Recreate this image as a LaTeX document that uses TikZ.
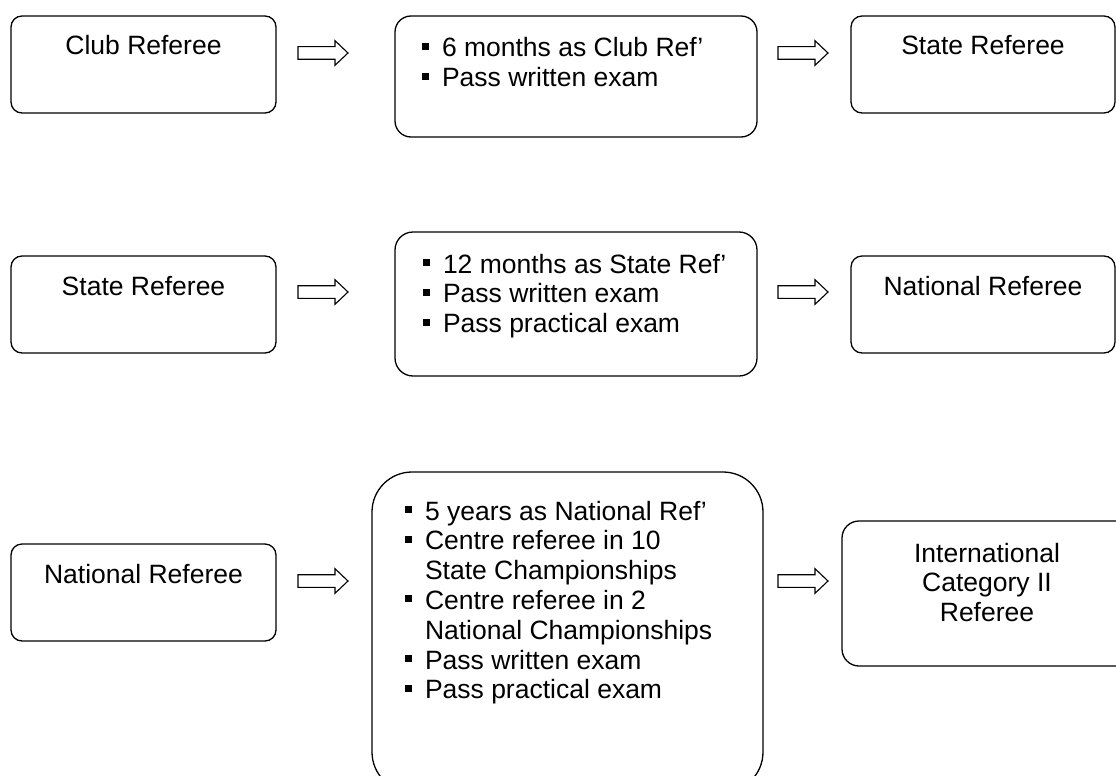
\documentclass[tikz,border=0pt]{standalone}
\usepackage{fontspec}
\setmainfont{Liberation Sans}
\newcommand{\bsq}{\makebox[20pt][l]{\rule[7pt]{7pt}{7pt}}}
\begin{document}
\begin{tikzpicture}[x=1pt,y=-1pt,
  box/.style={draw, line width=1.3pt, inner sep=0pt, outer sep=0pt, anchor=north west},
  txt/.style={inner sep=0pt, outer sep=0pt, font=\fontsize{26.5}{29.8}\selectfont},
  blk/.style={draw, line width=1.1pt, line join=miter}]
\useasboundingbox (0,0) rectangle (1116,776);
\clip (0,0) rectangle (1116,776);
% row 1
\node[box, rounded corners=11pt, minimum width=265pt, minimum height=97pt] (a1) at (11,16) {};
\node[box, rounded corners=16pt, minimum width=362pt, minimum height=121pt] (b1) at (395,16) {};
\node[box, rounded corners=11pt, minimum width=264pt, minimum height=97pt] (c1) at (851,16) {};
\node[txt, anchor=base] (ta1) at (143.5,55) {Club Referee};
\node[txt, anchor=base west] (tb1) at (422,57) {\begin{tabular}[t]{@{}l@{}l@{}}\bsq & 6 months as Club Ref’\\ \bsq & Pass written exam\end{tabular}};
\node[txt, anchor=base] (tc1) at (983,55) {State Referee};
% row 2
\node[box, rounded corners=11pt, minimum width=265pt, minimum height=97pt] (a2) at (11,256) {};
\node[box, rounded corners=18pt, minimum width=362pt, minimum height=144pt] (b2) at (395,232) {};
\node[box, rounded corners=11pt, minimum width=264pt, minimum height=97pt] (c2) at (851,256) {};
\node[txt, anchor=base] (ta2) at (143.5,295) {State Referee};
\node[txt, anchor=base west] (tb2) at (423,273) {\begin{tabular}[t]{@{}l@{}l@{}}\bsq & 12 months as State Ref’\\ \bsq & Pass written exam\\ \bsq & Pass practical exam\end{tabular}};
\node[txt, anchor=base] (tc2) at (983,295) {National Referee};
% row 3
\node[box, rounded corners=11pt, minimum width=265pt, minimum height=97pt] (a3) at (11,544) {};
\node[box, rounded corners=40pt, minimum width=391pt, minimum height=320pt] (b3) at (372,472) {};
\node[box, rounded corners=17pt, minimum width=300pt, minimum height=145pt] (c3) at (842,521) {};
\node[txt, anchor=base] (ta3) at (143.5,583) {National Referee};
\node[txt, anchor=base west] (tb3) at (405,520) {\begin{tabular}[t]{@{}l@{}l@{}}\bsq & 5 years as National Ref’\\ \bsq & Centre referee in 10\\ & State Championships\\ \bsq & Centre referee in 2\\ & National Championships\\ \bsq & Pass written exam\\ \bsq & Pass practical exam\end{tabular}};
\node[txt, anchor=base] (tc3) at (987,562) {\begin{tabular}[t]{@{}c@{}}International\\ Category II\\ Referee\end{tabular}};
% block arrows
\coordinate (p1) at (298,53);
\coordinate (p2) at (778,53);
\coordinate (p3) at (298,292);
\coordinate (p4) at (778,292);
\coordinate (p5) at (298,581);
\coordinate (p6) at (778,581);
\foreach \p in {p1,p2,p3,p4,p5,p6}{
  \draw[blk] (\p) ++(0,-6.3) -- ++(37,0) -- ++(0,-6) -- ++(13,12.3) -- ++(-13,12.3) -- ++(0,-6) -- ++(-37,0) -- cycle;
}
\end{tikzpicture}
\end{document}
